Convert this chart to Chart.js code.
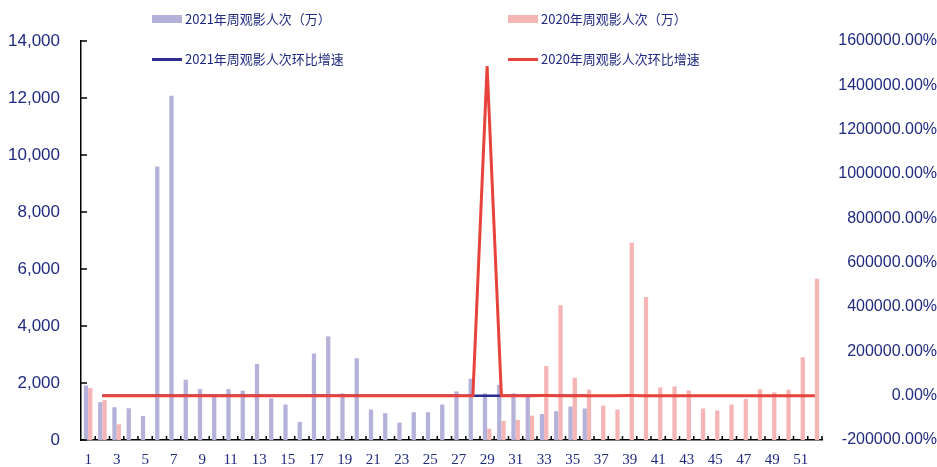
<!DOCTYPE html>
<html>
<head>
<meta charset="utf-8">
<script src="https://cdn.jsdelivr.net/npm/chart.js@4/dist/chart.umd.min.js"></script>
<style>
  body { margin: 0; background: #fff; }
  #wrap { position: relative; width: 937px; height: 467px; }
  .leg { position: absolute; font: 13px "Noto Sans CJK SC", sans-serif; color: #1F2A80; white-space: nowrap; line-height: 16px; }
  .leg i { position: absolute; display: block; }
</style>
</head>
<body>
<div id="wrap">
  <canvas id="chart" width="937" height="467"></canvas>
  <div id="legend"></div>
</div>
<script>
// semanas (rótulos do eixo x)
const weeks = ['1','2','3','4','5','6','7','8','9','10','11','12','13','14','15','16','17','18','19','20',
  '21','22','23','24','25','26','27','28','29','30','31','32','33','34','35','36','37','38','39','40',
  '41','42','43','44','45','46','47','48','49','50','51','52'];

// 2021 周观影人次（万）
const viewers2021 = [1915, 1330, 1150, 1115, 845, 9600, 12075, 2115, 1785, 1550, 1785, 1730, 2670, 1460, 1245, 635,
  3035, 3635, 1635, 2870, 1070, 940, 610, 975, 975, 1245, 1705, 2150, 1635, 1940, 1635, 1550, 915, 1010, 1175, 1105,
  null, null, null, null, null, null, null, null, null, null, null, null, null, null, null, null];

// 2020 周观影人次（万）
const viewers2020 = [1820, 1400, 550, null, null, null, null, null, null, null, null, null, null, null, null, null,
  null, null, null, null, null, null, null, null, null, null, null, null, 400, 670, 705, 855, 2595, 4725, 2185, 1765,
  1210, 1070, 6920, 5020, 1845, 1880, 1740, 1105, 1035, 1245, 1435, 1785, 1670, 1765, 2905, 5655];

// 环比增速 (%)
const growth2021 = [null, -31, -14, -3, -24, 1036, 26, -82, -16, -13, 15, -3, 54, -45, -15, -49,
  378, 20, -55, 76, -63, -12, -35, 60, 0, 28, 37, 26, -24, 19, -16, -5, -41, 10, 16, -6,
  null, null, null, null, null, null, null, null, null, null, null, null, null, null, null, null];

const growth2020 = [null, -23, -61, -100, 0, 0, 0, 0, 0, 0, 0, 0, 0, 0, 0, 0,
  0, 0, 0, 0, 0, 0, 0, 0, 0, 0, 0, 0, 1486700, 68, 5, 21, 204, 82, -54, -19,
  -31, -12, 547, -27, -63, 2, -7, -36, -6, 20, 15, 24, -6, 6, 65, 95];

const leftTicks = [0, 2000, 4000, 6000, 8000, 10000, 12000, 14000];
const rightTicks = [-200000, 0, 200000, 400000, 600000, 800000, 1000000, 1200000, 1400000, 1600000];

const NAVY = '#1F2A80';

// ticks para dentro da área do gráfico
const innerTicks = {
  id: 'innerTicks',
  afterDraw(chart) {
    const { ctx, scales: { x, y } } = chart;
    ctx.save();
    ctx.strokeStyle = '#000';
    ctx.lineWidth = 1.5;
    ctx.beginPath();
    leftTicks.forEach(v => {
      const py = y.getPixelForValue(v);
      ctx.moveTo(x.left, py);
      ctx.lineTo(x.left + 6, py);
    });
    for (let i = 1; i <= weeks.length; i++) {
      const px = x.left + i * x.width / weeks.length;
      ctx.moveTo(px, y.bottom);
      ctx.lineTo(px, y.bottom - 4);
    }
    ctx.stroke();
    ctx.restore();
  }
};

const chart = new Chart(document.getElementById('chart'), {
  type: 'bar',
  data: {
    labels: weeks,
    datasets: [
      {
        label: '2021年周观影人次（万）',
        data: viewers2021,
        backgroundColor: '#B4B2D9',
        yAxisID: 'y',
        order: 2,
        categoryPercentage: 0.6,
        barPercentage: 1
      },
      {
        label: '2020年周观影人次（万）',
        data: viewers2020,
        backgroundColor: '#F5B5B5',
        yAxisID: 'y',
        order: 2,
        categoryPercentage: 0.6,
        barPercentage: 1
      },
      {
        type: 'line',
        label: '2021年周观影人次环比增速',
        data: growth2021,
        borderColor: '#2B2E8C',
        borderWidth: 2.5,
        pointRadius: 0,
        yAxisID: 'y1',
        order: 1
      },
      {
        type: 'line',
        label: '2020年周观影人次环比增速',
        data: growth2020,
        borderColor: '#E8423D',
        borderWidth: 3,
        pointRadius: 0,
        yAxisID: 'y1',
        order: 0
      }
    ]
  },
  options: {
    responsive: false,
    animation: false,
    layout: { padding: { top: 41, bottom: 0, left: 0, right: 0 } },
    plugins: {
      legend: { display: false },
      tooltip: { enabled: false }
    },
    scales: {
      x: {
        grid: { display: false },
        border: { color: '#000', width: 1.5 },
        ticks: {
          autoSkip: false,
          maxRotation: 0,
          padding: 3,
          color: NAVY,
          font: { family: 'Liberation Serif', size: 15 },
          callback: function(value, index) {
            return index % 2 === 0 ? weeks[index] : '';
          }
        },
        afterFit: s => { s.height = 27; }
      },
      y: {
        position: 'left',
        min: 0,
        max: 14000,
        grid: { display: false },
        border: { color: '#000', width: 1.5 },
        afterBuildTicks: s => { s.ticks = leftTicks.map(v => ({ value: v })); },
        ticks: {
          padding: 13,
          color: NAVY,
          font: { family: 'Liberation Sans', size: 17 },
          callback: value => value.toLocaleString('en-US')
        },
        afterFit: s => { s.width = 81; }
      },
      y1: {
        position: 'right',
        min: -200000,
        max: 1600000,
        grid: { display: false },
        border: { display: false },
        afterBuildTicks: s => { s.ticks = rightTicks.map(v => ({ value: v })); },
        ticks: {
          padding: 16,
          crossAlign: 'far',
          color: NAVY,
          font: { family: 'Liberation Sans', size: 16 },
          callback: value => value.toFixed(2) + '%'
        },
        afterFit: s => { s.width = 115; }
      }
    }
  },
  plugins: [innerTicks]
});

// legenda em HTML, duas colunas
const legendPos = [
  { x: 152, y: 11, box: true },
  { x: 508, y: 11, box: true },
  { x: 152, y: 51, box: false },
  { x: 508, y: 51, box: false }
];
const legendEl = document.getElementById('legend');
chart.data.datasets.forEach((ds, i) => {
  const p = legendPos[i];
  const item = document.createElement('div');
  item.className = 'leg';
  item.style.left = (p.x + 33) + 'px';
  item.style.top = p.y + 'px';
  item.textContent = ds.label;
  const mark = document.createElement('i');
  if (p.box) {
    mark.style.cssText = 'left:-33px;top:4px;width:30px;height:8px;background:' + ds.backgroundColor;
  } else {
    mark.style.cssText = 'left:-33px;top:7px;width:30px;height:' + Math.round(ds.borderWidth) + 'px;background:' + ds.borderColor;
  }
  item.appendChild(mark);
  legendEl.appendChild(item);
});
</script>
</body>
</html>
